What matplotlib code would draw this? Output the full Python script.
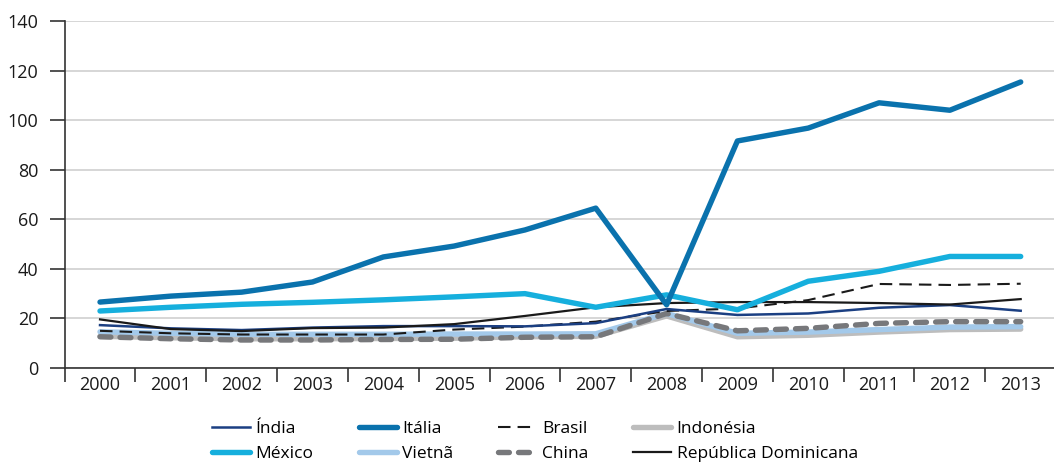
import matplotlib
matplotlib.use("Agg")
import matplotlib.pyplot as plt
from matplotlib.lines import Line2D

years = [str(y) for y in range(2000, 2014)]
india = [17.3, 16.0, 15.3, 16.3, 16.9, 16.9, 16.8, 18.1, 23.8, 21.4, 22.0, 24.3, 25.4, 23.1]
italia = [26.6, 29.0, 30.6, 34.7, 44.8, 49.2, 55.7, 64.5, 25.5, 91.6, 96.8, 107.0, 104.0, 115.4]
brasil = [15.0, 14.0, 13.5, 13.5, 13.5, 15.5, 16.7, 18.7, 23.0, 24.0, 27.4, 33.9, 33.5, 34.0]
indonesia = [12.8, 12.2, 11.8, 11.8, 11.9, 12.0, 12.6, 12.8, 21.0, 12.6, 13.2, 14.5, 15.5, 15.7]
mexico = [23.0, 24.5, 25.7, 26.5, 27.5, 28.7, 30.0, 24.5, 29.5, 23.5, 35.0, 39.0, 45.0, 45.0]
vietna = [14.6, 14.0, 13.6, 13.6, 13.6, 13.7, 13.7, 13.8, 22.0, 14.0, 14.5, 15.5, 16.5, 16.7]
china = [12.6, 11.8, 11.3, 11.3, 11.5, 11.6, 12.4, 12.6, 22.0, 15.0, 16.0, 18.0, 18.7, 18.7]
rep_dom = [19.6, 15.7, 14.9, 16.1, 16.3, 17.7, 21.0, 24.5, 26.2, 26.6, 26.6, 26.2, 25.6, 27.8]

plt.rcParams['font.family'] = ['Open Sans', 'DejaVu Sans']

fig = plt.figure(figsize=(10.54, 4.63), dpi=100)
ax = fig.add_axes([0.0613, 0.2052, 0.9407, 0.7494])

x = list(range(len(years)))
C_INDIA = '#1b3f82'
C_ITALIA = '#0a72ad'
C_MEX = '#16afdd'
C_VIET = '#a3c9ea'
C_INDO = '#bdbdbd'
C_CHINA = '#77787b'
C_DOM = '#1a1a1a'
LW = 3.9
CHINA_D = (2.0, 1.7)
BRASIL_D = (6.0, 3.4)

ax.plot(x, indonesia, color=C_INDO, lw=LW, solid_capstyle='round', zorder=2)
ax.plot(x, vietna, color=C_VIET, lw=LW, solid_capstyle='round', zorder=3)
ax.plot(x, china, color=C_CHINA, lw=LW, dashes=CHINA_D, dash_capstyle='round', zorder=4)
ax.plot(x, brasil, color='#1a1a1a', lw=1.5, dashes=BRASIL_D, zorder=5)
ax.plot(x, india, color=C_INDIA, lw=1.8, zorder=5)
ax.plot(x, rep_dom, color=C_DOM, lw=1.6, zorder=6)
ax.plot(x, mexico, color=C_MEX, lw=LW, solid_capstyle='round', zorder=7)
ax.plot(x, italia, color=C_ITALIA, lw=LW, solid_capstyle='round', zorder=8)

ax.set_xlim(-0.5, 13.5)
ax.set_ylim(0, 140)
ax.set_yticks(range(0, 141, 20))
ax.grid(axis='y', color='#d0d0d0', lw=1.2)
ax.set_axisbelow(True)

ax.set_xticks([i - 0.5 for i in range(len(years) + 1)])
ax.set_xticklabels([])
ax.set_xticks(x, minor=True)
ax.set_xticklabels(years, minor=True)
ax.tick_params(axis='x', which='major', length=10, width=1.2, color='#333333', direction='out')
ax.tick_params(axis='x', which='minor', length=0, pad=6, labelsize=13, labelcolor='#1a1a1a')
ax.tick_params(axis='y', length=11, width=1.2, color='#333333', labelsize=13, labelcolor='#1a1a1a', pad=8)

for s in ['top', 'right']:
    ax.spines[s].set_visible(False)
for s in ['left', 'bottom']:
    ax.spines[s].set_color('#333333')
    ax.spines[s].set_linewidth(1.2)

handles = [
    Line2D([], [], color=C_INDIA, lw=1.8),
    Line2D([], [], color=C_MEX, lw=LW, solid_capstyle='round'),
    Line2D([], [], color=C_ITALIA, lw=LW, solid_capstyle='round'),
    Line2D([], [], color=C_VIET, lw=LW, solid_capstyle='round'),
    Line2D([], [], color='#1a1a1a', lw=1.5, dashes=BRASIL_D),
    Line2D([], [], color=C_CHINA, lw=LW, dashes=CHINA_D, dash_capstyle='round'),
    Line2D([], [], color=C_INDO, lw=LW, solid_capstyle='round'),
    Line2D([], [], color=C_DOM, lw=1.6),
]
labels = ['Índia', 'México', 'Itália', 'Vietnã', 'Brasil', 'China', 'Indonésia', 'República Dominicana']
fig.legend(handles, labels, ncol=4, loc='upper center', bbox_to_anchor=(0.5076, 0.124),
           frameon=False, fontsize=12.5, handlelength=2.2, handletextpad=0.3,
           columnspacing=2.6, labelspacing=0.5, borderpad=0.4)

fig.savefig('out.png', dpi=100)
